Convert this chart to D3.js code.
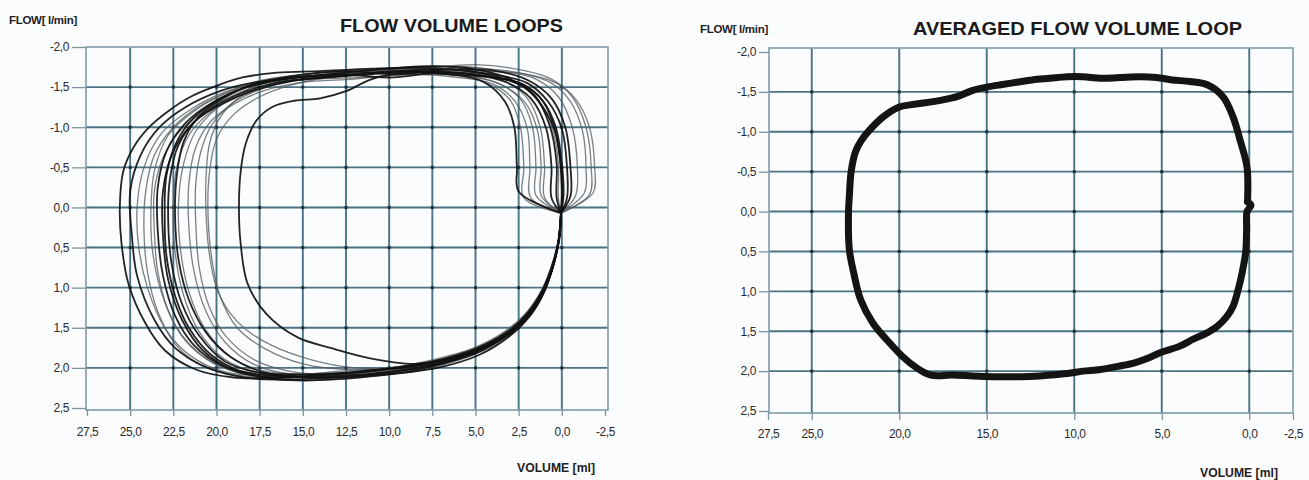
<!DOCTYPE html>
<html><head><meta charset="utf-8">
<script src="https://cdn.jsdelivr.net/npm/d3@7"></script>
<style>body{margin:0;background:#fbfcfd}svg{display:block}</style>
</head><body>
<svg id="c" width="1309" height="480"></svg>
<script>
// ---------- DATA ----------
const xTicksLeft = [27.5, 25, 22.5, 20, 17.5, 15, 12.5, 10, 7.5, 5, 2.5, 0, -2.5];
const xTicksRight = [27.5, 25, 20, 15, 10, 5, 0, -2.5];
const yTicks = [-2, -1.5, -1, -0.5, 0, 0.5, 1, 1.5, 2, 2.5];

// individual breaths: [volume ml, flow l/min]
const loop1 = [[0.05,0.07],[0.0,-0.15],[0.05,-0.5],[0.4,-0.95],[1.1,-1.25],[2.2,-1.5],[3.6,-1.62],[5.5,-1.7],[8,-1.74],[11,-1.73],[14,-1.7],[16.5,-1.68],[18.5,-1.62],[20.2,-1.5],[21.5,-1.38],[22.8,-1.2],[23.9,-1.0],[24.8,-0.75],[25.4,-0.45],[25.6,0.0],[25.5,0.45],[25.1,0.95],[24.1,1.45],[23.0,1.78],[21.2,2.02],[19,2.12],[16,2.12],[13,2.1],[10,2.05],[7.5,1.97],[5,1.82],[3.2,1.6],[2,1.38],[1.1,1.08],[0.5,0.72],[0.15,0.4],[0.05,0.07]];
const loop2 = [[0.05,0.07],[-0.3,-0.12],[-0.3,-0.5],[0.0,-0.98],[0.8,-1.32],[2.0,-1.55],[4,-1.66],[6.5,-1.72],[9.5,-1.7],[12.5,-1.66],[15.5,-1.62],[18,-1.55],[19.8,-1.45],[21.8,-1.25],[23.3,-1.0],[24.4,-0.65],[25.0,-0.2],[24.9,0.35],[24.6,0.85],[23.6,1.4],[22.4,1.75],[20.5,2.0],[18,2.13],[15,2.14],[12,2.1],[9,2.02],[6,1.88],[3.8,1.66],[2.2,1.4],[1.2,1.12],[0.55,0.75],[0.18,0.42],[0.05,0.07]];
const loop3 = [[0.05,0.07],[0.2,-0.12],[0.2,-0.55],[0.6,-1.02],[1.5,-1.38],[3,-1.58],[5,-1.68],[8,-1.66],[11,-1.7],[14,-1.64],[17,-1.58],[19.5,-1.44],[21.5,-1.22],[23.2,-0.92],[24.2,-0.5],[24.6,0.0],[24.5,0.5],[24.0,1.0],[23,1.5],[21.5,1.85],[19.5,2.05],[16.5,2.1],[13.5,2.06],[10.5,2.04],[7.5,1.94],[5,1.8],[3,1.57],[1.8,1.3],[0.9,0.98],[0.35,0.6],[0.1,0.3],[0.05,0.07]];
const loop4 = [[0.05,0.07],[-0.8,-0.15],[-0.9,-0.5],[-0.6,-1.0],[0.2,-1.38],[1.5,-1.6],[3.5,-1.7],[6,-1.76],[9,-1.72],[12,-1.7],[15,-1.66],[17.5,-1.58],[19.5,-1.42],[21.3,-1.2],[22.8,-0.9],[23.6,-0.45],[23.8,0.05],[23.7,0.55],[23.2,1.05],[22.3,1.5],[20.8,1.85],[18.8,2.05],[16,2.1],[13,2.12],[10,2.06],[7,1.96],[4.5,1.76],[2.8,1.54],[1.6,1.26],[0.8,0.92],[0.3,0.55],[0.05,0.07]];
const loop5 = [[0.05,0.07],[0.0,-0.1],[0.1,-0.6],[0.5,-1.05],[1.3,-1.38],[2.6,-1.56],[4.5,-1.64],[7,-1.68],[10,-1.62],[13,-1.66],[16,-1.6],[18.5,-1.48],[20.3,-1.3],[21.8,-1.05],[22.9,-0.7],[23.4,-0.25],[23.4,0.3],[23.1,0.85],[22.4,1.35],[21.3,1.72],[19.6,1.98],[17.5,2.08],[14.5,2.1],[11.5,2.04],[8.5,1.98],[6,1.86],[4,1.68],[2.5,1.46],[1.4,1.18],[0.6,0.8],[0.2,0.44],[0.05,0.07]];
const loop6 = [[0.05,0.07],[0.6,-0.12],[0.6,-0.5],[0.9,-0.98],[1.8,-1.36],[3.2,-1.56],[5.2,-1.66],[8,-1.7],[11,-1.66],[14,-1.62],[16.5,-1.56],[18.6,-1.42],[20.2,-1.25],[21.6,-1.0],[22.6,-0.65],[23.1,-0.2],[23.1,0.35],[22.8,0.9],[22.0,1.4],[20.8,1.78],[19,2.03],[16.5,2.12],[13.5,2.08],[10.5,2.02],[7.5,1.92],[5,1.76],[3.2,1.56],[2,1.32],[1.1,1.02],[0.45,0.65],[0.12,0.35],[0.05,0.07]];
const loop7 = [[0.05,0.07],[-0.1,-0.15],[0.0,-0.55],[0.35,-1.0],[1.1,-1.33],[2.3,-1.54],[4,-1.62],[6.5,-1.66],[9.5,-1.7],[12.5,-1.64],[15.5,-1.58],[17.8,-1.46],[19.6,-1.3],[21.1,-1.1],[22.2,-0.78],[22.7,-0.35],[22.8,0.15],[22.6,0.7],[22.0,1.2],[21.0,1.6],[19.5,1.92],[17.5,2.06],[15,2.08],[12,2.06],[9,1.98],[6.5,1.88],[4.2,1.7],[2.6,1.48],[1.5,1.2],[0.7,0.85],[0.22,0.45],[0.05,0.07]];
const loop8 = [[0.05,0.07],[1.2,-0.15],[1.2,-0.5],[1.4,-0.95],[2.1,-1.3],[3.4,-1.52],[5.5,-1.64],[8.5,-1.66],[11.5,-1.62],[14.5,-1.6],[17,-1.52],[18.8,-1.38],[20.4,-1.18],[21.6,-0.9],[22.3,-0.5],[22.5,0.0],[22.4,0.55],[21.9,1.1],[21.0,1.55],[19.6,1.88],[17.8,2.05],[15.2,2.12],[12.5,2.1],[9.5,2.04],[7,1.94],[4.8,1.78],[3,1.56],[1.8,1.3],[0.95,1.0],[0.4,0.62],[0.1,0.3],[0.05,0.07]];
const loop9 = [[0.05,0.07],[-1.3,-0.18],[-1.4,-0.5],[-1.2,-0.95],[-0.5,-1.32],[0.6,-1.55],[2.5,-1.68],[5,-1.74],[8,-1.76],[11,-1.72],[14,-1.68],[16.5,-1.6],[18.3,-1.46],[19.9,-1.25],[21.2,-0.95],[21.9,-0.55],[22.2,-0.05],[22.1,0.5],[21.6,1.05],[20.7,1.5],[19.2,1.86],[17.2,2.04],[14.5,2.08],[11.5,2.1],[8.5,2.0],[6,1.87],[4,1.7],[2.4,1.46],[1.3,1.16],[0.6,0.8],[0.18,0.42],[0.05,0.07]];
const loop10 = [[0.05,0.07],[1.8,-0.12],[1.85,-0.5],[2.0,-0.98],[2.7,-1.32],[4,-1.54],[6,-1.62],[9,-1.66],[12,-1.6],[15,-1.56],[17.2,-1.46],[18.9,-1.3],[20.3,-1.08],[21.2,-0.75],[21.6,-0.3],[21.6,0.25],[21.3,0.8],[20.6,1.3],[19.5,1.68],[17.8,1.96],[15.5,2.08],[12.8,2.04],[10,2.0],[7.5,1.92],[5.2,1.78],[3.4,1.58],[2.1,1.34],[1.15,1.04],[0.5,0.68],[0.14,0.34],[0.05,0.07]];
const loop11 = [[0.05,0.07],[-1.8,-0.18],[-1.9,-0.5],[-1.6,-1.0],[-0.8,-1.35],[0.3,-1.55],[2,-1.66],[4.5,-1.7],[7.5,-1.72],[10.5,-1.68],[13.5,-1.62],[15.8,-1.52],[17.5,-1.38],[19,-1.16],[20,-0.85],[20.4,-0.45],[20.5,0.0],[20.3,0.6],[19.8,1.1],[18.8,1.5],[17.2,1.76],[15,1.95],[12.5,2.02],[10,2.0],[7.5,1.9],[5.2,1.76],[3.4,1.56],[2.1,1.32],[1.15,1.02],[0.5,0.66],[0.14,0.34],[0.05,0.07]];
const loop12 = [[0.05,0.07],[2.5,-0.2],[2.6,-0.5],[2.75,-1.0],[3.3,-1.32],[4.5,-1.56],[6.5,-1.66],[9,-1.68],[11,-1.6],[12.5,-1.45],[14,-1.36],[15.5,-1.33],[16.8,-1.25],[17.7,-1.08],[18.3,-0.8],[18.6,-0.45],[18.7,0.0],[18.6,0.45],[18.2,0.95],[17.1,1.33],[15.3,1.62],[13.4,1.75],[11.1,1.88],[8.5,1.95],[6,1.86],[4,1.7],[2.5,1.48],[1.4,1.18],[0.6,0.8],[0.18,0.42],[0.05,0.07]];
const loop13 = [[0.05,0.07],[1.5,-0.15],[1.5,-0.5],[1.7,-1.0],[2.4,-1.35],[3.8,-1.56],[6,-1.66],[9,-1.7],[12,-1.66],[15,-1.6],[17.3,-1.5],[18.8,-1.35],[19.8,-1.12],[20.4,-0.8],[20.6,-0.4],[20.6,0.1],[20.4,0.6],[20.0,1.0],[19.2,1.32],[18.3,1.52],[16.8,1.72],[14.5,1.9],[12,2.0],[9.5,2.0],[7,1.9],[4.8,1.76],[3.1,1.56],[1.9,1.3],[1.0,1.0],[0.42,0.62],[0.12,0.32],[0.05,0.07]];
const loop14 = [[0.05,0.07],[0.3,-0.12],[0.3,-0.55],[0.7,-1.02],[1.6,-1.4],[3,-1.6],[5,-1.72],[7.5,-1.76],[10.5,-1.72],[13.5,-1.66],[16.2,-1.6],[18.3,-1.5],[19.9,-1.34],[21.3,-1.12],[22.3,-0.82],[22.9,-0.4],[23.0,0.1],[22.9,0.6],[22.4,1.1],[21.6,1.5],[20.3,1.84],[18.4,2.06],[16,2.15],[13,2.14],[10,2.08],[7.2,2.0],[4.8,1.84],[3,1.6],[1.8,1.34],[0.95,1.02],[0.38,0.62],[0.1,0.3],[0.05,0.07]];
const loop15 = [[0.05,0.07],[-0.5,-0.14],[-0.5,-0.5],[-0.2,-1.0],[0.6,-1.36],[1.9,-1.58],[3.8,-1.7],[6.5,-1.72],[9.5,-1.66],[12.5,-1.7],[15.5,-1.64],[17.8,-1.54],[19.6,-1.36],[21,-1.14],[21.9,-0.82],[22.3,-0.4],[22.4,0.1],[22.2,0.65],[21.6,1.15],[20.6,1.56],[19.2,1.86],[17.2,2.06],[14.5,2.12],[11.5,2.1],[8.8,2.04],[6.2,1.9],[4.2,1.72],[2.6,1.5],[1.5,1.2],[0.7,0.84],[0.2,0.42],[0.05,0.07]];
const loop16 = [[0.05,0.07],[1.0,-0.12],[1.0,-0.5],[1.25,-1.0],[2.0,-1.36],[3.4,-1.58],[5.5,-1.68],[8.5,-1.72],[11.5,-1.7],[14.5,-1.64],[17,-1.58],[19.2,-1.45],[21,-1.26],[22.5,-1.0],[23.6,-0.65],[24.1,-0.2],[24.2,0.3],[24.0,0.8],[23.4,1.3],[22.4,1.7],[20.8,1.98],[18.5,2.1],[15.5,2.1],[12.5,2.08],[9.5,2.0],[6.8,1.92],[4.4,1.74],[2.7,1.52],[1.55,1.24],[0.75,0.9],[0.25,0.5],[0.05,0.07]];
const loop17 = [[0.05,0.07],[2.2,-0.12],[2.2,-0.5],[2.4,-1.0],[3.0,-1.34],[4.4,-1.56],[6.5,-1.68],[9.5,-1.7],[12.5,-1.64],[15.5,-1.58],[17.6,-1.46],[19.2,-1.28],[20.3,-1.02],[20.9,-0.7],[21.2,-0.3],[21.2,0.2],[21.0,0.75],[20.4,1.25],[19.4,1.62],[17.8,1.9],[15.8,2.04],[13.2,2.08],[10.5,2.04],[8,1.96],[5.6,1.82],[3.6,1.6],[2.2,1.36],[1.2,1.06],[0.52,0.7],[0.15,0.36],[0.05,0.07]];
const loop18 = [[0.05,0.07],[-1.6,-0.16],[-1.7,-0.5],[-1.4,-1.0],[-0.6,-1.38],[0.6,-1.6],[2.5,-1.72],[5,-1.78],[8,-1.74],[11,-1.72],[14,-1.66],[16.6,-1.58],[18.6,-1.44],[20.4,-1.24],[22,-0.98],[23.1,-0.62],[23.6,-0.2],[23.6,0.3],[23.4,0.8],[22.8,1.28],[21.8,1.66],[20.2,1.94],[18,2.1],[15,2.16],[12,2.12],[9,2.06],[6.5,1.94],[4.3,1.76],[2.6,1.52],[1.5,1.22],[0.7,0.86],[0.2,0.44],[0.05,0.07]];

const darkLoops = [loop1, loop2, loop5, loop6, loop7, loop12, loop14, loop15];
const greyLoops = [loop3, loop4, loop8, loop9, loop10, loop11, loop13, loop16, loop17, loop18];

// averaged loop: [volume ml, flow l/min]
const averagedLoop = [[0.1,-0.12],[0.13,-0.56],[0.53,-0.9],[0.93,-1.19],[1.5,-1.44],[2.4,-1.59],[3.4,-1.63],[4.4,-1.65],[5.3,-1.68],[6.2,-1.69],[7.4,-1.68],[8.5,-1.67],[9.5,-1.69],[10.4,-1.69],[11.4,-1.67],[12.4,-1.65],[13.3,-1.62],[14.2,-1.59],[15.0,-1.56],[15.8,-1.52],[16.7,-1.44],[17.5,-1.4],[18.6,-1.36],[19.3,-1.34],[20.0,-1.31],[20.9,-1.19],[21.7,-1.02],[22.2,-0.88],[22.5,-0.75],[22.75,-0.5],[22.85,-0.2],[22.9,0.0],[22.85,0.48],[22.6,0.77],[22.2,1.11],[21.5,1.4],[20.7,1.61],[19.8,1.82],[19.0,1.96],[18.2,2.05],[17.0,2.05],[15.8,2.06],[14.5,2.07],[13.0,2.07],[12.0,2.06],[10.4,2.03],[9.5,2.0],[8.5,1.98],[7.5,1.94],[6.6,1.9],[5.8,1.84],[5.1,1.77],[4.0,1.69],[3.2,1.6],[2.5,1.53],[1.84,1.44],[1.3,1.32],[0.93,1.19],[0.6,0.95],[0.41,0.77],[0.2,0.5],[0.15,0.2],[0.13,0.0],[-0.1,-0.08],[0.1,-0.12]];

// ---------- DRAW ----------
const FONT = "'Liberation Sans', Arial, Helvetica, sans-serif";
const svg = d3.select("#c");
svg.append("rect").attr("width",1309).attr("height",480).attr("fill","#fbfcfd");
const fmt = v => d3.format(".1f")(v).replace("\u2212","-").replace(".", ",");

function panel(o) {
  const x = d3.scaleLinear().domain([27.5, -2.5]).range(o.xr);
  const y = d3.scaleLinear().domain([-2, 2.5]).range(o.yr);
  const g = svg.append("g");
  const [fl, fr, ft, fb] = o.frame;
  const vx = o.xTicks.filter(t => t < 27.5 && t > -2.5);
  const hy = yTicks.filter(t => t > -2 && t < 2.5);
  // grid
  g.selectAll("line.vg").data(vx).join("line")
    .attr("x1", d => x(d)).attr("x2", d => x(d)).attr("y1", ft).attr("y2", fb)
    .attr("stroke", "#4a7486").attr("stroke-width", 1.9);
  g.selectAll("line.hg").data(hy).join("line")
    .attr("x1", fl).attr("x2", fr).attr("y1", d => y(d)).attr("y2", d => y(d))
    .attr("stroke", "#4a7486").attr("stroke-width", 1.9);
  // darker dots at grid crossings
  const cross = d3.cross(vx, hy);
  g.selectAll("rect.dot").data(cross).join("rect")
    .attr("x", d => x(d[0]) - 1.5).attr("y", d => y(d[1]) - 1.5).attr("width", 3).attr("height", 3)
    .attr("fill", "#1c2f38");
  g.append("rect").attr("x", fl).attr("y", ft).attr("width", fr - fl).attr("height", fb - ft)
    .attr("fill", "none").attr("stroke", "#7f9cab").attr("stroke-width", 1.6);
  // axes
  const ay = g.append("g").attr("transform", `translate(${fl},0)`)
    .call(d3.axisLeft(y).tickValues(yTicks).tickSize(o.yTickLen).tickPadding(3).tickFormat(fmt));
  ay.select(".domain").remove();
  const ax = g.append("g").attr("transform", `translate(0,${fb})`)
    .call(d3.axisBottom(x).tickValues(o.xTicks).tickSize(o.xTickLen).tickPadding(o.xPad).tickFormat(fmt));
  ax.select(".domain").remove();
  g.selectAll(".tick line").attr("stroke", "#7f939d").attr("stroke-width", 1.3);
  g.selectAll(".tick text").attr("font-family", FONT).attr("font-size", 12)
    .attr("letter-spacing", "-0.4px").attr("fill", "#2a2a2a");
  // titles
  g.append("text").attr("x", o.flowLab[0]).attr("y", o.flowLab[1]).text("FLOW[ l/min]")
    .attr("font-family", FONT).attr("font-weight", "bold").attr("font-size", 11.5)
    .attr("letter-spacing", "-0.3px").attr("fill", "#222");
  g.append("text").attr("x", o.title[0]).attr("y", o.title[1]).text(o.titleText)
    .attr("font-family", FONT).attr("font-weight", "bold").attr("font-size", 18.5)
    .attr("textLength", o.title[2]).attr("lengthAdjust", "spacingAndGlyphs").attr("fill", "#1a1a1a");
  g.append("text").attr("x", o.volLab[0]).attr("y", o.volLab[1]).text("VOLUME [ml]")
    .attr("font-family", FONT).attr("font-weight", "bold").attr("font-size", 12)
    .attr("textLength", 78).attr("lengthAdjust", "spacingAndGlyphs").attr("fill", "#222");
  return {g, x, y};
}

// Left panel
const L = panel({xr:[87,605], yr:[47,408], frame:[86,608,47,410], xTicks:xTicksLeft,
  yTickLen:14, xTickLen:6, xPad:11, flowLab:[9,24], title:[340,32,223], titleText:"FLOW VOLUME LOOPS",
  volLab:[517,472]});
const lineL = d3.line().x(d => L.x(d[0])).y(d => L.y(d[1])).curve(d3.curveCatmullRom.alpha(0.5));
L.g.append("g").selectAll("path").data(greyLoops).join("path")
  .attr("d", lineL).attr("fill", "none").attr("stroke", "#50575b").attr("stroke-width", 1.3)
  .attr("stroke-opacity", 0.75);
L.g.append("g").selectAll("path").data(darkLoops).join("path")
  .attr("d", lineL).attr("fill", "none").attr("stroke", "#111").attr("stroke-width", 1.8)
  .attr("stroke-opacity", 0.92);

// Right panel
const R = panel({xr:[768,1293], yr:[52,411], frame:[769,1293,48,413], xTicks:xTicksRight,
  yTickLen:10, xTickLen:7, xPad:9, flowLab:[700,33], title:[913,35,329], titleText:"AVERAGED FLOW VOLUME LOOP",
  volLab:[1200,477]});
const lineR = d3.line().x(d => R.x(d[0])).y(d => R.y(d[1])).curve(d3.curveCatmullRom.alpha(0.5));
R.g.append("path").datum(averagedLoop).attr("d", lineR).attr("fill", "none")
  .attr("stroke", "#141414").attr("stroke-width", 7).attr("stroke-linejoin", "round").attr("stroke-linecap", "round");
</script>
</body></html>
